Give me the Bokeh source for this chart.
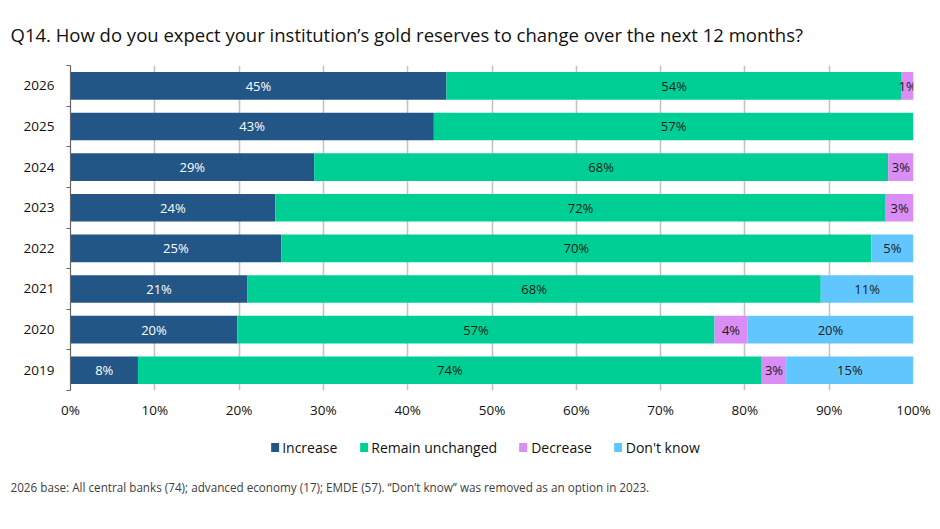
import numpy as np
from bokeh.plotting import figure
from bokeh.models import (ColumnDataSource, FixedTicker, Legend, LegendItem,
                          Title, Range1d, LabelSet)
from bokeh.layouts import column
from bokeh.core.properties import value
from bokeh.embed import file_html
from bokeh.resources import INLINE

# ---------------- data ----------------
years = ["2019", "2020", "2021", "2022", "2023", "2024", "2025", "2026"]
series = ["Increase", "Remain unchanged", "Decrease", "Don't know"]
increase = [8.0, 19.8, 21.0, 25.0, 24.3, 28.9, 43.1, 44.6]
remain = [74.0, 56.6, 68.0, 70.0, 72.4, 68.1, 56.9, 54.0]
decrease = [2.9, 3.9, 0.0, 0.0, 3.3, 3.0, 0.0, 1.4]
dont_know = [15.1, 19.7, 11.0, 5.0, 0.0, 0.0, 0.0, 0.0]
x_ticks = [0, 10, 20, 30, 40, 50, 60, 70, 80, 90, 100]
x_tick_labels = [f"{t}%" for t in x_ticks]

colors = ["#225687", "#00CF95", "#D98DF5", "#62C6FE"]
label_colors = ["#ffffff", "#1a1a1a", "#1a1a1a", "#1a1a1a"]
FONT = "Open Sans"

ypos = list(range(len(years)))
keys = ["inc", "rem", "dec", "dk"]
data = dict(y=ypos, inc=increase, rem=remain, dec=decrease, dk=dont_know)
source = ColumnDataSource(data)

p = figure(frame_width=843, frame_height=325, output_backend="svg",
           toolbar_location=None,
           x_range=Range1d(0, 100), y_range=Range1d(-0.5, len(years) - 0.5),
           min_border_left=70, min_border_right=19, min_border_top=10,
           min_border_bottom=35, outline_line_color=None,
           background_fill_color="white", border_fill_color="white")

renderers = p.hbar_stack(keys, y="y", height=0.68, color=colors, source=source,
                         line_color=None)

# labels
vals = [increase, remain, decrease, dont_know]
lx, ly, lt, lc = [], [], [], []
for si, arr in enumerate(vals):
    for yi in range(len(years)):
        v = arr[yi]
        if v <= 0:
            continue
        start = sum(vals[k][yi] for k in range(si))
        lx.append(start + v / 2)
        ly.append(yi)
        lt.append(f"{round(v)}%")
        lc.append(label_colors[si])
lsrc = ColumnDataSource(dict(x=lx, y=ly, t=lt, c=lc))
p.add_layout(LabelSet(x="x", y="y", text="t", source=lsrc, text_color="c",
                      text_align="center", text_baseline="middle",
                      text_font=value(FONT), text_font_size=value("13px")))

# axes
p.xaxis.ticker = FixedTicker(ticks=x_ticks)
p.xaxis.major_label_overrides = {t: l for t, l in zip(x_ticks, x_tick_labels)}
p.xaxis.axis_line_color = None
p.xaxis.major_tick_line_color = None
p.xaxis.major_tick_out = 0
p.xaxis.major_tick_in = 0
p.xaxis.minor_tick_line_color = None
p.xaxis.major_label_standoff = 10
p.xaxis.major_label_text_font = FONT
p.xaxis.major_label_text_font_size = "13.5px"
p.xaxis.major_label_text_color = "#111111"

p.yaxis.ticker = FixedTicker(ticks=ypos,
                             minor_ticks=[y - 0.5 for y in ypos] + [len(years) - 0.5])
p.yaxis.major_label_overrides = {y: yr for y, yr in zip(ypos, years)}
p.yaxis.axis_line_color = "#666666"
p.yaxis.axis_line_width = 1.2
p.yaxis.major_tick_line_color = None
p.yaxis.major_tick_out = 0
p.yaxis.major_tick_in = 0
p.yaxis.minor_tick_line_color = "#666666"
p.yaxis.minor_tick_out = 4
p.yaxis.minor_tick_in = 0
p.yaxis.major_label_standoff = 12
p.yaxis.major_label_text_font = FONT
p.yaxis.major_label_text_font_size = "13.5px"
p.yaxis.major_label_text_color = "#111111"

p.xgrid.ticker = FixedTicker(ticks=x_ticks)
p.xgrid.grid_line_color = "#c4c4c4"
p.xgrid.grid_line_width = 1.6
p.ygrid.grid_line_color = None

# title
title = Title(text="Q14. How do you expect your institution\u2019s gold reserves to change over the next 12 months?",
              text_font=FONT, text_font_size="18.5px", text_font_style="normal",
              text_color="#111111", align="left", offset=-60, standoff=38)
p.add_layout(title, "above")

# ---- lower strip: legend + footnote ----
p2 = figure(frame_width=829, frame_height=40, output_backend="svg",
            toolbar_location=None, x_range=Range1d(0, 1), y_range=Range1d(0, 1),
            min_border_left=70, min_border_right=33, min_border_top=2,
            min_border_bottom=10, outline_line_color=None,
            background_fill_color="white", border_fill_color="white")
p2.axis.visible = False
p2.grid.visible = False

# legend swatches (glyphs placed outside the visible range, only used as keys)
legend_renderers = [p2.rect(x=[-5], y=[-5], width=1, height=1, color=c, line_color=None)
                    for c in colors]
items = [LegendItem(label=s, renderers=[r]) for s, r in zip(series, legend_renderers)]
legend = Legend(items=items, orientation="horizontal", location="center",
                glyph_width=10, glyph_height=11, label_standoff=3, spacing=21,
                label_text_font=FONT, label_text_font_size="14px",
                label_text_color="#111111", border_line_color=None,
                background_fill_alpha=0, padding=4, margin=0)
p2.add_layout(legend, "center")

foot = Title(text="2026 base: All central banks (74); advanced economy (17); EMDE (57). \u201cDon\u2019t know\u201d was removed as an option in 2023.",
             text_font=FONT, text_font_size="11.7px", text_font_style="normal",
             text_color="#404040", align="left", offset=-60, standoff=19)
p2.add_layout(foot, "below")

layout = column(p, p2, spacing=0)
open("out.html", "w").write(file_html(layout, INLINE))
